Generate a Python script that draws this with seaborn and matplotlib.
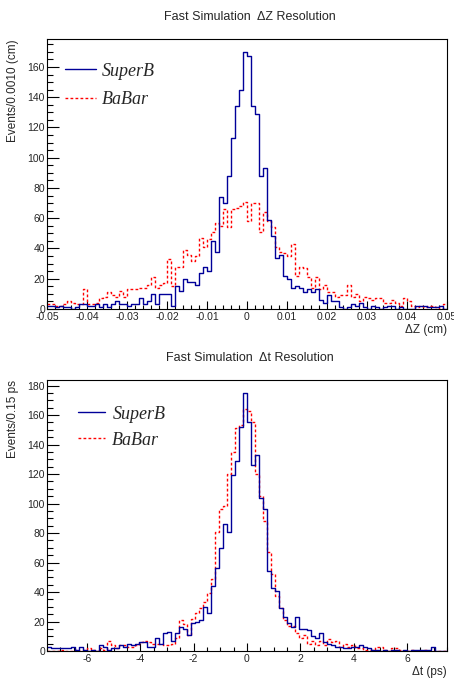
"""Fast Simulation resolution histograms (SuperB vs BaBar), ROOT-like look."""
import matplotlib

matplotlib.use("Agg")
import matplotlib.pyplot as plt
from matplotlib.lines import Line2D
from matplotlib.ticker import MultipleLocator
import numpy as np
import pandas as pd
import seaborn as sns

sns.set_theme(style="ticks")
plt.rcParams["font.family"] = ["Liberation Sans", "DejaVu Sans"]
plt.rcParams["axes.unicode_minus"] = False

# --- data: 100 bins per histogram ------------------------------------------
dz_edges = np.linspace(-0.05, 0.05, 101)   # bin width 0.0010 cm
dt_edges = np.linspace(-7.5, 7.5, 101)     # bin width 0.15 ps

dz_superb = [2, 2, 1, 2, 1, 1, 0, 1, 3, 3,
             2, 2, 3, 1, 3, 1, 3, 5, 3, 3,
             2, 3, 3, 7, 3, 5, 10, 3, 10, 10,
             10, 2, 15, 12, 20, 18, 18, 16, 24, 28,
             25, 45, 38, 74, 70, 88, 113, 134, 145, 170,
             167, 134, 129, 88, 93, 59, 48, 34, 36, 22,
             20, 14, 15, 14, 11, 13, 11, 13, 6, 4,
             9, 5, 5, 1, 0, 1, 3, 2, 4, 1,
             0, 2, 1, 0, 1, 2, 2, 0, 1, 0,
             0, 0, 2, 2, 2, 1, 1, 1, 2, 0]

dz_babar = [3, 3, 2, 2, 3, 5, 4, 3, 3, 13,
            3, 3, 4, 7, 8, 11, 9, 8, 12, 8,
            13, 13, 13, 14, 14, 16, 21, 14, 16, 17,
            33, 15, 28, 28, 39, 36, 32, 35, 47, 41,
            46, 51, 57, 55, 66, 54, 66, 67, 68, 71,
            58, 70, 70, 51, 64, 58, 54, 41, 38, 37,
            35, 43, 22, 28, 27, 21, 14, 21, 13, 16,
            11, 11, 8, 9, 9, 16, 8, 10, 5, 8,
            7, 6, 7, 7, 4, 4, 6, 4, 2, 7,
            5, 2, 1, 2, 1, 2, 2, 1, 0, 3]

dt_superb = [3, 2, 2, 2, 2, 2, 3, 1, 3, 1,
             0, 1, 0, 4, 3, 1, 2, 2, 4, 3,
             5, 4, 5, 6, 6, 3, 3, 9, 5, 12,
             13, 7, 12, 16, 15, 11, 19, 20, 21, 30,
             26, 44, 56, 70, 86, 81, 119, 129, 152, 175,
             155, 126, 133, 104, 96, 54, 43, 41, 29, 23,
             19, 16, 23, 15, 15, 14, 10, 9, 12, 6,
             5, 4, 3, 3, 2, 2, 3, 3, 4, 3,
             2, 1, 1, 0, 1, 0, 1, 1, 0, 1,
             0, 1, 1, 1, 1, 1, 3, 0, 0, 0]

dt_babar = [0, 0, 0, 1, 0, 0, 0, 1, 0, 1,
            2, 1, 0, 2, 1, 7, 4, 2, 4, 4,
            3, 3, 4, 6, 7, 6, 5, 5, 5, 4,
            4, 5, 9, 21, 18, 11, 22, 26, 29, 33,
            39, 49, 81, 96, 98, 120, 135, 151, 153, 164,
            163, 155, 120, 105, 88, 67, 52, 37, 29, 21,
            17, 17, 12, 9, 11, 5, 7, 4, 7, 4,
            8, 6, 7, 3, 5, 3, 4, 2, 2, 1,
            1, 1, 3, 3, 1, 0, 2, 2, 1, 0,
            0, 1, 0, 0, 1, 0, 0, 0, 0, 0]

dz_ticks = [-0.05, -0.04, -0.03, -0.02, -0.01, 0, 0.01, 0.02, 0.03, 0.04, 0.05]
dz_ticklabels = ["-0.05", "-0.04", "-0.03", "-0.02", "-0.01", "0",
                 "0.01", "0.02", "0.03", "0.04", "0.05"]
dt_ticks = [-6, -4, -2, 0, 2, 4, 6]
y_ticks_top = list(range(0, 161, 20))
y_ticks_bot = list(range(0, 181, 20))

BLUE = "#000099"
RED = "#ff0000"
DASH = (0, (2.0, 1.6))
LEG_FONT = {"family": "Liberation Serif", "style": "italic", "size": 13}


def draw_hist(ax, edges, counts, color, ls):
    df = pd.DataFrame({"x": 0.5 * (edges[:-1] + edges[1:]),
                       "n": np.asarray(counts, dtype=float)})
    sns.histplot(data=df, x="x", weights="n", bins=list(edges),
                 element="step", fill=False, color=color, linewidth=1.0,
                 linestyle=ls, ax=ax)


def style_axes(ax, xlim, ylim, xminor, yminor):
    ax.set_xlim(*xlim)
    ax.set_ylim(*ylim)
    ax.xaxis.set_minor_locator(MultipleLocator(xminor))
    ax.yaxis.set_minor_locator(MultipleLocator(yminor))
    ax.tick_params(axis="both", which="both", direction="in",
                   top=False, right=False, labelsize=7.5, color="black")
    ax.tick_params(axis="x", which="major", length=5.6, width=0.8, pad=2.5)
    ax.tick_params(axis="x", which="minor", length=2.8, width=0.8)
    ax.tick_params(axis="y", which="major", length=8.8, width=0.8, pad=1.5)
    ax.tick_params(axis="y", which="minor", length=4.4, width=0.8)
    for sp in ax.spines.values():
        sp.set_color("black")
        sp.set_linewidth(0.8)
    ax.set_ylabel("")
    ax.grid(False)


fig = plt.figure(figsize=(4.54, 6.79), dpi=100)
ax1 = fig.add_axes([47 / 454, 1 - 309 / 679, 400 / 454, 270 / 679])
ax2 = fig.add_axes([47 / 454, 1 - 651 / 679, 400 / 454, 271 / 679])

# --- top: delta Z -----------------------------------------------------------
draw_hist(ax1, dz_edges, dz_babar, RED, DASH)
draw_hist(ax1, dz_edges, dz_superb, BLUE, "-")
style_axes(ax1, (-0.05, 0.05), (0, 1.05 * max(dz_superb)), 0.002, 5)
ax1.set_xticks(dz_ticks)
ax1.set_xticklabels(dz_ticklabels)
ax1.set_yticks(y_ticks_top)
ax1.set_xlabel("ΔZ (cm)", fontsize=8.5, loc="right")
ax1.xaxis.set_label_coords(1.0, -0.055)
fig.text(250 / 454, 1 - 17 / 679, "Fast Simulation  ΔZ Resolution",
         ha="center", va="center", fontsize=9)
fig.text(13 / 454, 1 - 39 / 679, "Events/0.0010 (cm)", rotation=90,
         ha="center", va="top", fontsize=8.5)
handles = [Line2D([], [], color=BLUE, lw=1.0),
           Line2D([], [], color=RED, lw=1.0, ls=DASH)]
ax1.legend(handles, ["SuperB", "BaBar"], loc="upper left",
           bbox_to_anchor=(0.045, 0.912), frameon=False, prop=LEG_FONT,
           borderaxespad=0, borderpad=0, handlelength=1.7,
           handletextpad=0.35, labelspacing=0.62)

# --- bottom: delta t --------------------------------------------------------
draw_hist(ax2, dt_edges, dt_babar, RED, DASH)
draw_hist(ax2, dt_edges, dt_superb, BLUE, "-")
style_axes(ax2, (-7.5, 7.5), (0, 1.05 * max(dt_superb)), 0.5, 5)
ax2.set_xticks(dt_ticks)
ax2.set_xticklabels([str(t) for t in dt_ticks])
ax2.set_yticks(y_ticks_bot)
ax2.set_xlabel("Δt (ps)", fontsize=8.5, loc="right")
ax2.xaxis.set_label_coords(1.0, -0.055)
fig.text(250 / 454, 1 - 358 / 679, "Fast Simulation  Δt Resolution",
         ha="center", va="center", fontsize=9)
fig.text(13 / 454, 1 - 380 / 679, "Events/0.15 ps", rotation=90,
         ha="center", va="top", fontsize=8.5)
ax2.legend(handles, ["SuperB", "BaBar"], loc="upper left",
           bbox_to_anchor=(0.0775, 0.905), frameon=False, prop=LEG_FONT,
           borderaxespad=0, borderpad=0, handlelength=1.5,
           handletextpad=0.4, labelspacing=0.5)

fig.savefig("out.png", dpi=100)
plt.close(fig)
